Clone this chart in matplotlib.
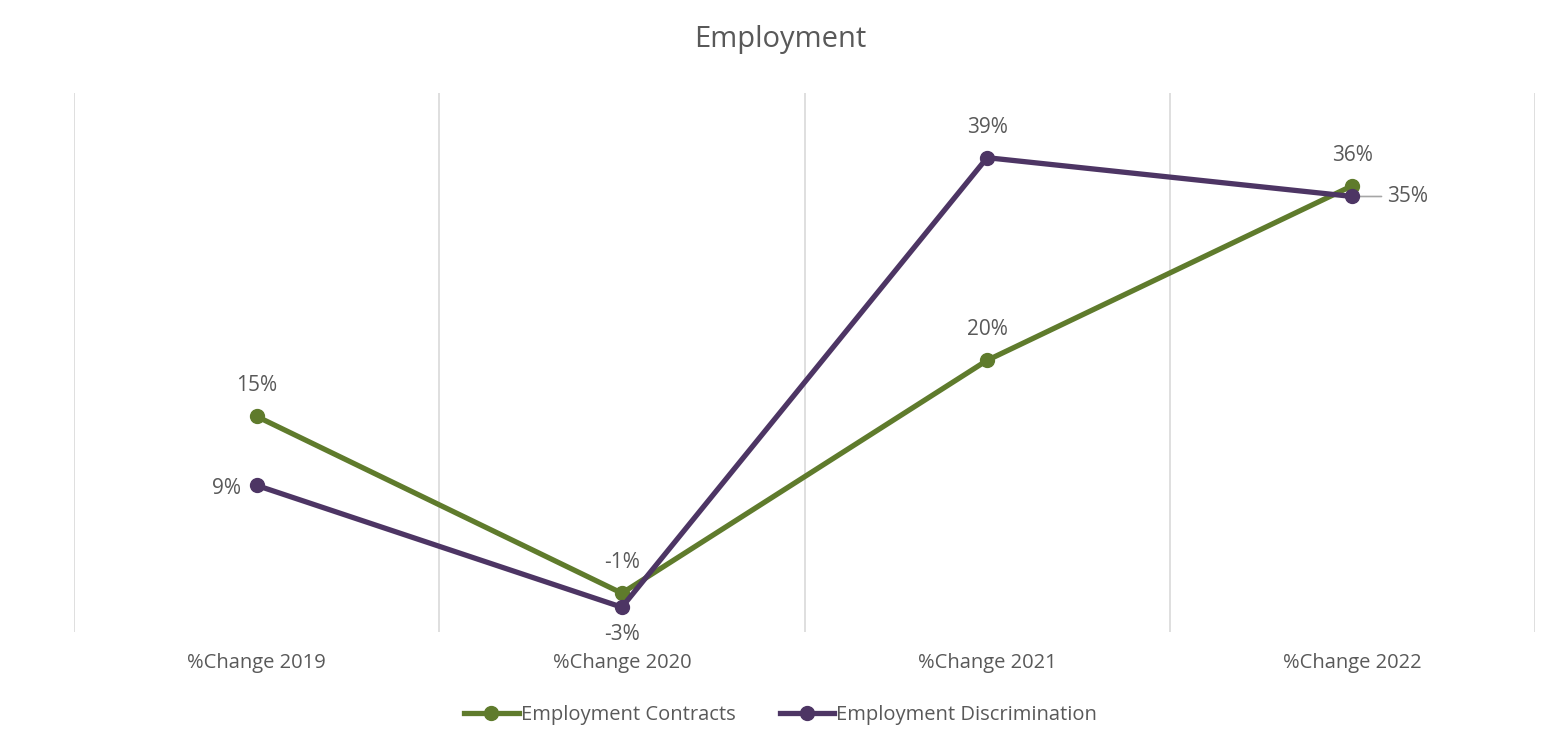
import matplotlib.pyplot as plt
import numpy as np

categories = ['%Change 2019', '%Change 2020', '%Change 2021', '%Change 2022']
contracts = [15, -1.4, 20.2, 36.4]
discrimination = [8.6, -2.7, 39, 35.4]
series_names = ['Employment Contracts', 'Employment Discrimination']

green = '#5F7B2C'
purple = '#4D3564'
txt = '#595959'

plt.rcParams['font.family'] = ['Open Sans', 'DejaVu Sans']

fig = plt.figure(figsize=(15.61, 7.52), dpi=100)
ax = fig.add_axes([74/1561, 1-632/752, (1535-74)/1561, (632-93)/752])

x = np.arange(len(categories))
ax.plot(x, contracts, color=green, lw=3.8, marker='o', ms=10, label=series_names[0], zorder=3)
ax.plot(x, discrimination, color=purple, lw=3.8, marker='o', ms=10, label=series_names[1], zorder=4)

ax.set_xlim(-0.5, len(categories)-0.5)
ax.set_ylim(-5, 45)
for b in np.arange(-0.5, len(categories), 1):
    ax.axvline(b, color='#D9D9D9', lw=1.2, zorder=0)

for s in ax.spines.values():
    s.set_visible(False)
ax.set_yticks([])
ax.set_xticks(x)
ax.set_xticklabels(categories, fontsize=14.5, color=txt)
ax.tick_params(axis='x', length=0, pad=15)

fs = 15
# contracts labels (above)
for i, v in enumerate(contracts):
    ax.annotate(f'{v:.0f}%', (i, v), xytext=(0, 22), textcoords='offset points',
                ha='center', va='center', fontsize=fs, color=txt)
# discrimination labels
offs = [(-11, -2, 'right'), (0, -20, 'center'), (0, 22, 'center')]
for i in range(3):
    dx, dy, ha = offs[i]
    ax.annotate(f'{discrimination[i]:.0f}%', (x[i], discrimination[i]), xytext=(dx, dy),
                textcoords='offset points', ha=ha, va='center', fontsize=fs, color=txt)
ax.annotate(f'{discrimination[3]:.0f}%', (x[3], discrimination[3]), xytext=(25, 0),
            textcoords='offset points', ha='left', va='center', fontsize=fs, color=txt,
            arrowprops=dict(arrowstyle='-', color='#A6A6A6', lw=1.2, shrinkA=2, shrinkB=0))

fig.suptitle('Employment', y=1-40/752, va='center', fontsize=21, color=txt)
fig.legend(loc='center', bbox_to_anchor=(0.5, 1-715/752), ncol=2, frameon=False,
           fontsize=14.5, labelcolor=txt, handlelength=2.7, handletextpad=0.1, columnspacing=2.2)

fig.savefig('out.png', dpi=100)
